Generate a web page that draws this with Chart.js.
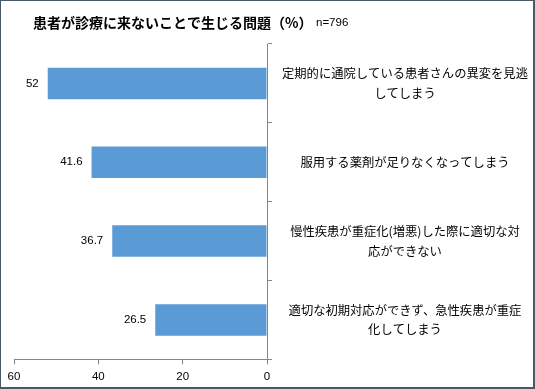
<!DOCTYPE html>
<html><head><meta charset="utf-8">
<script src="https://cdn.jsdelivr.net/npm/chart.js@4"></script>
<style>html,body{margin:0;padding:0;background:#fff}#wrap{width:535px;height:389px;position:relative}</style>
</head><body>
<div id="wrap"><canvas id="c" width="535" height="389"></canvas></div>
<script>
const titleText = "患者が診療に来ないことで生じる問題（%）";
const sampleText = "n=796";
const categories = [
  ["定期的に通院している患者さんの異変を見逃", "してしまう"],
  "服用する薬剤が足りなくなってしまう",
  ["慢性疾患が重症化(増悪)した際に適切な対", "応ができない"],
  ["適切な初期対応ができず、急性疾患が重症", "化してしまう"]
];
const values = [52, 41.6, 36.7, 26.5];
const xTicks = [0, 20, 40, 60];

const JP = "'Noto Sans CJK JP', sans-serif";
const NUM = "'Liberation Sans', Arial, sans-serif";

const framePlugin = {
  id: 'frame',
  beforeDraw(chart) {
    const ctx = chart.ctx;
    ctx.save();
    ctx.fillStyle = '#fff';
    ctx.fillRect(0, 0, chart.width, chart.height);
    ctx.restore();
  },
  afterDraw(chart) {
    const ctx = chart.ctx, w = chart.width, h = chart.height;
    ctx.save();
    ctx.fillStyle = '#4a5767';
    ctx.fillRect(0, 0, w, 1);
    ctx.fillRect(0, 0, 1, h);
    ctx.fillRect(w - 2, 0, 2, h);
    ctx.fillRect(0, h - 2, w, 2);
    // title
    ctx.fillStyle = '#000';
    ctx.textBaseline = 'middle';
    ctx.textAlign = 'left';
    ctx.font = "bold 14px " + JP;
    ctx.fillText(titleText, 33, 23);
    ctx.font = "11.5px " + NUM;
    ctx.fillText(sampleText, 316, 23);
    // value labels
    const meta = chart.getDatasetMeta(0);
    ctx.font = "11.5px " + NUM;
    ctx.textAlign = 'right';
    meta.data.forEach((bar, i) => {
      ctx.fillText(String(values[i]), bar.x - 9, bar.y);
    });
    ctx.restore();
  }
};

new Chart(document.getElementById('c'), {
  type: 'bar',
  data: {
    labels: categories,
    datasets: [{
      data: values,
      backgroundColor: '#5b9bd5',
      borderWidth: 0,
      categoryPercentage: 1,
      barPercentage: 0.4
    }]
  },
  options: {
    indexAxis: 'y',
    responsive: false,
    animation: false,
    devicePixelRatio: 1,
    layout: { padding: { top: 44, left: 14, right: 0, bottom: 0 } },
    plugins: { legend: { display: false }, tooltip: { enabled: false } },
    scales: {
      x: {
        reverse: true,
        min: 0, max: 60,
        afterBuildTicks(scale) { scale.ticks = xTicks.map(v => ({ value: v })); },
        afterFit(scale) { scale.height = 26; },
        grid: { drawOnChartArea: false, drawTicks: true, tickLength: 5, color: '#868686' },
        border: { display: true, color: '#868686', width: 1 },
        ticks: { color: '#000', font: { family: NUM, size: 11.5 }, padding: 6, maxRotation: 0 }
      },
      y: {
        position: 'right',
        afterFit(scale) { scale.width = 268; },
        grid: { drawOnChartArea: false, drawTicks: true, tickLength: 5, color: '#868686', offset: true },
        border: { display: true, color: '#868686', width: 1 },
        ticks: { color: '#000', font: { family: JP, size: 12.3, lineHeight: 1.6 }, padding: 10, crossAlign: 'center', autoSkip: false }
      }
    }
  },
  plugins: [framePlugin]
});
</script>
</body></html>
